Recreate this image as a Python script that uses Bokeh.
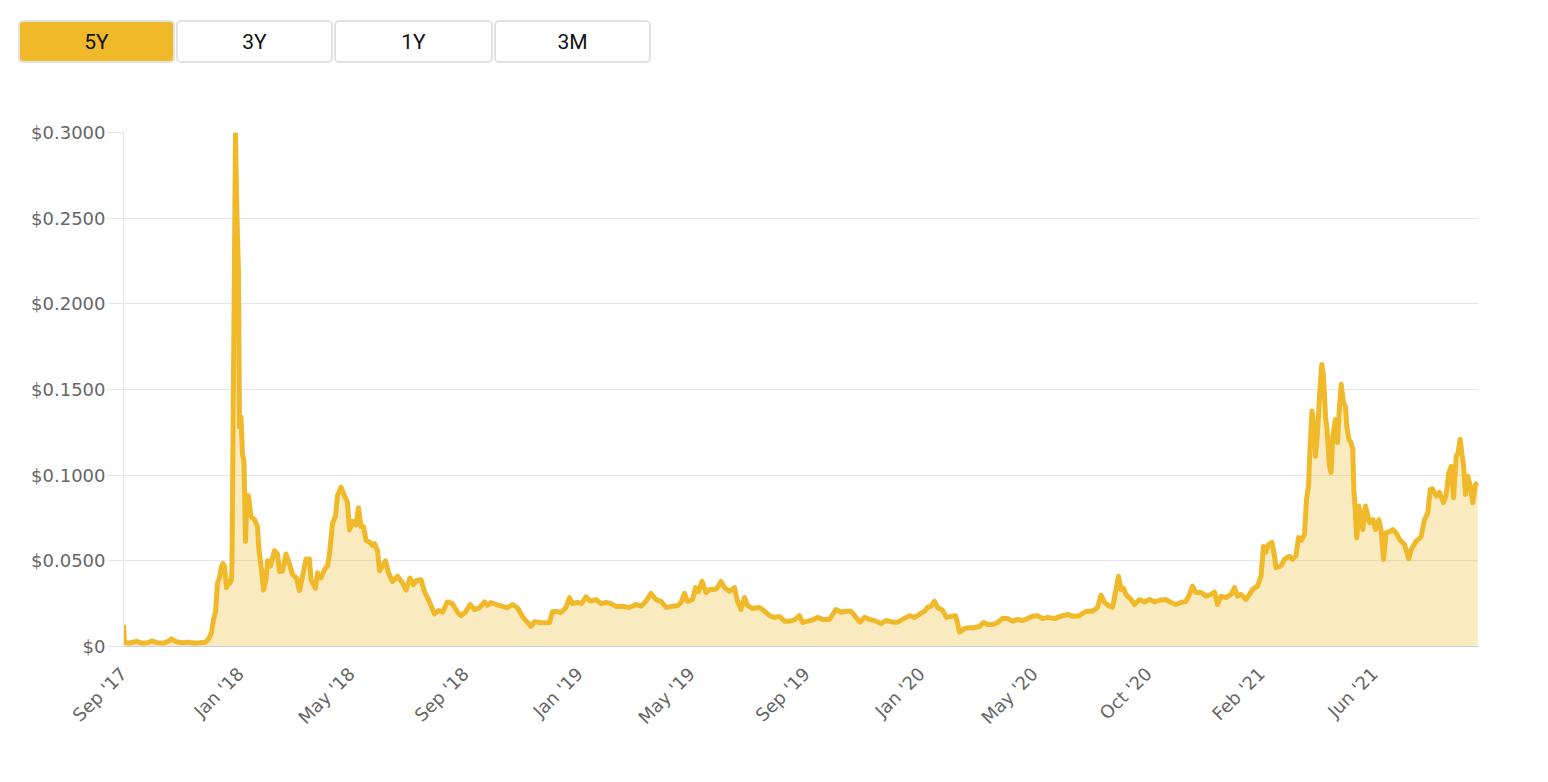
from bokeh.plotting import figure
from bokeh.layouts import column
from bokeh.models import Range1d, FixedTicker, CustomJSTickFormatter, ColumnDataSource, Div
from bokeh.embed import file_html
from bokeh.resources import INLINE

# ---------------- data (ordinal trading-day index, price in USD) ----------------
day = [0, 1, 6, 13, 18, 24, 28, 34, 40, 44, 48, 52, 58, 64, 70, 76, 82, 85, 88, 90, 92, 94, 96, 98, 99.5,
       101, 103, 105, 106.5, 108, 108.5, 112, 113.5, 115, 116, 117.5, 119, 120.5, 122, 123.5, 125, 127.5,
       131, 134, 135.5, 138, 140, 142.5, 144, 147, 151, 154, 156, 159, 162.5, 166, 169, 173, 176, 179,
       182.5, 186, 187.5, 192, 194, 197.5, 201, 204, 206, 209, 212, 214, 217.5, 221, 224, 226, 229, 232.5,
       235, 237.5, 240, 242.5, 246, 249, 251, 254, 256, 259, 262, 265, 269, 274, 278, 282.5, 286.5, 290,
       293, 297.5, 301, 306, 311, 315, 319, 324, 329, 334, 337.5, 342, 346.5, 351, 356, 361, 364, 367.5,
       373, 379, 384, 389, 394, 399, 404, 407.5, 411, 416, 421, 426, 429, 434, 437.5, 442.5, 446, 449,
       454, 458, 462.5, 467, 472.5, 477.5, 482.5, 487.5, 492.5, 499, 506, 512.5, 517.5, 522.5, 527.5,
       532.5, 537.5, 542.5, 549, 554, 557.5, 561, 564, 569, 572, 575, 578.5, 582.5, 586, 591, 594, 597.5,
       601, 606, 611, 614, 617.5, 621, 624, 629, 636, 641, 646, 651, 656, 661, 666, 671, 676, 679, 684,
       689, 694, 699, 706, 712.5, 717.5, 722.5, 727.5, 732.5, 736.5, 741, 746, 752.5, 757.5, 762.5, 769,
       774, 779, 786, 791, 796, 801, 804, 807.5, 811, 814, 819, 823, 827.5, 832, 834, 836, 841, 846, 851,
       856, 860, 864, 869, 874, 879, 884, 889, 894, 899, 904, 909, 914, 919, 924, 931, 936, 944, 949, 956,
       962.5, 969, 974, 977.5, 981, 986, 989, 992.5, 995, 997.5, 1000, 1002.5, 1007.5, 1011, 1016, 1021,
       1026, 1031, 1036, 1042.5, 1047.5, 1052.5, 1057.5, 1062.5, 1066, 1069, 1072.5, 1077.5, 1082.5,
       1087.5, 1091, 1094, 1097.5, 1102.5, 1107.5, 1111, 1114, 1117.5, 1122.5, 1126, 1129, 1134, 1137.5,
       1140, 1142.5, 1145, 1148.5, 1151, 1152.5, 1157.5, 1161, 1166, 1169, 1172.5, 1175, 1178, 1181, 1183,
       1185, 1186.5, 1188.5, 1191, 1192, 1194, 1196, 1198.3, 1200, 1202, 1203.5, 1206, 1207.5, 1209.3,
       1212, 1214, 1216, 1217.7, 1220, 1222, 1223.3, 1225.3, 1227.5, 1229.3, 1230.3, 1231.7, 1233.3,
       1235.3, 1237.7, 1239.3, 1242, 1244.5, 1246, 1249.5, 1252, 1255.3, 1257.5, 1260, 1262.7, 1266,
       1269.3, 1272.5, 1276, 1281, 1285.3, 1287.7, 1292.7, 1297.5, 1301, 1304.3, 1306.7, 1309, 1312.7,
       1316, 1320, 1322.5, 1325.3, 1327.7, 1330, 1332.7, 1334.5, 1336.7, 1338.5, 1340, 1342, 1344.3,
       1346.5, 1349.3, 1352, 1354.3]

price = [0.0128, 0.0023, 0.0020, 0.0030, 0.0020, 0.0022, 0.0032, 0.0022, 0.0020, 0.0028, 0.0045, 0.0030,
         0.0022, 0.0025, 0.0020, 0.0022, 0.0025, 0.0045, 0.0080, 0.0158, 0.0200, 0.0370, 0.0400, 0.0467,
         0.0485, 0.0470, 0.0344, 0.0380, 0.0370, 0.0390, 0.0500, 0.2990, 0.2500, 0.2180, 0.1280, 0.1340,
         0.1120, 0.1080, 0.0613, 0.0880, 0.0880, 0.0760, 0.0740, 0.0700, 0.0560, 0.0450, 0.0330, 0.0390,
         0.0500, 0.0470, 0.0560, 0.0540, 0.0438, 0.0440, 0.0540, 0.0480, 0.0420, 0.0400, 0.0325, 0.0410,
         0.0510, 0.0510, 0.0390, 0.0340, 0.0430, 0.0400, 0.0450, 0.0470, 0.0540, 0.0720, 0.0760, 0.0880,
         0.0930, 0.0880, 0.0840, 0.0680, 0.0730, 0.0710, 0.0810, 0.0700, 0.0700, 0.0620, 0.0610, 0.0590,
         0.0600, 0.0560, 0.0440, 0.0470, 0.0500, 0.0430, 0.0380, 0.0410, 0.0380, 0.0330, 0.0400, 0.0360,
         0.0385, 0.0390, 0.0320, 0.0260, 0.0190, 0.0210, 0.0200, 0.0260, 0.0250, 0.0200, 0.0180, 0.0200,
         0.0245, 0.0216, 0.0225, 0.0260, 0.0240, 0.0257, 0.0245, 0.0234, 0.0226, 0.0245, 0.0226, 0.0175,
         0.0140, 0.0117, 0.0145, 0.0140, 0.0138, 0.0140, 0.0204, 0.0204, 0.0198, 0.0228, 0.0286, 0.0250,
         0.0257, 0.0250, 0.0290, 0.0265, 0.0274, 0.0250, 0.0257, 0.0250, 0.0234, 0.0235, 0.0228, 0.0245,
         0.0235, 0.0264, 0.0310, 0.0274, 0.0264, 0.0228, 0.0235, 0.0238, 0.0257, 0.0310, 0.0264, 0.0274,
         0.0344, 0.0320, 0.0380, 0.0315, 0.0333, 0.0333, 0.0344, 0.0380, 0.0344, 0.0323, 0.0344, 0.0264,
         0.0216, 0.0286, 0.0240, 0.0222, 0.0228, 0.0206, 0.0180, 0.0170, 0.0175, 0.0148, 0.0148, 0.0155,
         0.0180, 0.0140, 0.0148, 0.0155, 0.0170, 0.0158, 0.0158, 0.0216, 0.0200, 0.0206, 0.0206, 0.0170,
         0.0142, 0.0170, 0.0158, 0.0148, 0.0134, 0.0152, 0.0142, 0.0142, 0.0158, 0.0180, 0.0170, 0.0187,
         0.0206, 0.0228, 0.0235, 0.0264, 0.0228, 0.0212, 0.0170, 0.0175, 0.0180, 0.0140, 0.0084, 0.0105,
         0.0110, 0.0110, 0.0117, 0.0140, 0.0128, 0.0128, 0.0140, 0.0163, 0.0163, 0.0148, 0.0158, 0.0152,
         0.0163, 0.0177, 0.0180, 0.0163, 0.0170, 0.0163, 0.0175, 0.0187, 0.0177, 0.0180, 0.0206, 0.0206,
         0.0228, 0.0300, 0.0257, 0.0235, 0.0228, 0.0333, 0.0410, 0.0333, 0.0340, 0.0304, 0.0274, 0.0245,
         0.0274, 0.0260, 0.0274, 0.0260, 0.0270, 0.0274, 0.0257, 0.0245, 0.0257, 0.0264, 0.0304, 0.0352,
         0.0315, 0.0315, 0.0294, 0.0304, 0.0317, 0.0245, 0.0294, 0.0286, 0.0304, 0.0344, 0.0294, 0.0304,
         0.0274, 0.0304, 0.0333, 0.0352, 0.0410, 0.0585, 0.0550, 0.0595, 0.0607, 0.0530, 0.0460, 0.0470,
         0.0508, 0.0527, 0.0510, 0.0530, 0.0636, 0.0620, 0.0654, 0.0858, 0.0936, 0.1150, 0.1374, 0.1250,
         0.1110, 0.1250, 0.1460, 0.1646, 0.1578, 0.1344, 0.1267, 0.1052, 0.1016, 0.1228, 0.1325, 0.1190,
         0.1403, 0.1530, 0.1422, 0.1400, 0.1286, 0.1210, 0.1190, 0.1150, 0.0917, 0.0800, 0.0634, 0.0820,
         0.0740, 0.0683, 0.0820, 0.0760, 0.0722, 0.0740, 0.0683, 0.0740, 0.0683, 0.0508, 0.0664, 0.0670,
         0.0683, 0.0664, 0.0625, 0.0595, 0.0512, 0.0566, 0.0615, 0.0640, 0.0740, 0.0780, 0.0917, 0.0920,
         0.0877, 0.0900, 0.0839, 0.0880, 0.1014, 0.1052, 0.0868, 0.1110, 0.1130, 0.1210, 0.1120, 0.1062,
         0.0887, 0.0994, 0.0940, 0.0839, 0.0946, 0.0956]

tick_days = [0, 117, 228, 342, 456, 568, 683, 798, 911, 1025, 1138, 1251]
tick_labels = ["Sep '17", "Jan '18", "May '18", "Sep '18", "Jan '19", "May '19", "Sep '19",
               "Jan '20", "May '20", "Oct '20", "Feb '21", "Jun '21"]
y_ticks = [0, 0.05, 0.10, 0.15, 0.20, 0.25, 0.30]

ranges = ["5Y", "3Y", "1Y", "3M"]
selected = "5Y"

# ---------------- styling ----------------
GOLD = "#f0b92a"
GRID = "#e6e6e6"
LABEL = "#666666"
FONT = "DejaVu Sans"

# ---------------- range buttons (HTML) ----------------
b_left = [18, 176, 334, 494]
b_width = [157, 157, 159, 157]
btn_html = "".join(
    f'<div style="position:absolute;left:{l}px;top:20px;width:{w}px;height:43px;'
    f'box-sizing:border-box;border:2px solid #e2e2e2;border-radius:5px;'
    f'background:{GOLD if lab == selected else "#ffffff"};display:flex;align-items:center;'
    f'justify-content:center;font-family:Roboto;font-size:21px;color:#111111;">{lab}</div>'
    for lab, l, w in zip(ranges, b_left, b_width)
)
buttons = Div(text=f'<div style="position:relative;width:700px;height:80px;">{btn_html}</div>',
              width=700, height=80, margin=0)

# ---------------- main chart ----------------
p = figure(width=1525, height=668, x_range=Range1d(0, 1355), y_range=Range1d(0, 0.3),
           output_backend="svg", toolbar_location=None)
p.min_border_left = 123
p.min_border_right = 47
p.min_border_top = 52
p.min_border_bottom = 102
p.outline_line_color = None
p.background_fill_color = "white"

src = ColumnDataSource(dict(day=day, price=price))
p.varea(x="day", y1=0, y2="price", source=src, fill_color=GOLD, fill_alpha=0.3)
p.line(x="day", y="price", source=src, line_color=GOLD, line_width=5, line_join="round")

p.xgrid.visible = False
p.ygrid.grid_line_color = GRID
p.ygrid.grid_line_width = 1

p.yaxis.ticker = FixedTicker(ticks=y_ticks)
p.yaxis.formatter = CustomJSTickFormatter(code="return tick == 0 ? '$0' : '$' + tick.toFixed(4);")
p.yaxis.axis_line_color = GRID
p.yaxis.major_tick_line_color = GRID
p.yaxis.major_tick_in = 0
p.yaxis.major_tick_out = 16
p.yaxis.minor_tick_line_color = None
p.yaxis.major_label_standoff = 2
p.yaxis.major_label_text_color = LABEL
p.yaxis.major_label_text_font = FONT
p.yaxis.major_label_text_font_size = "18px"

p.xaxis.ticker = FixedTicker(ticks=tick_days)
p.xaxis.major_label_overrides = {d: l for d, l in zip(tick_days, tick_labels)}
p.xaxis.axis_line_color = "#ccd0d6"
p.xaxis.major_tick_line_color = None
p.xaxis.minor_tick_line_color = None
p.xaxis.major_tick_out = 0
p.xaxis.major_tick_in = 0
p.xaxis.major_label_standoff = 24
p.xaxis.major_label_orientation = 0.785398
p.xaxis.major_label_text_color = LABEL
p.xaxis.major_label_text_font = FONT
p.xaxis.major_label_text_font_size = "18px"

layout = column(buttons, p, spacing=0)
open("out.html", "w").write(file_html(layout, INLINE))
